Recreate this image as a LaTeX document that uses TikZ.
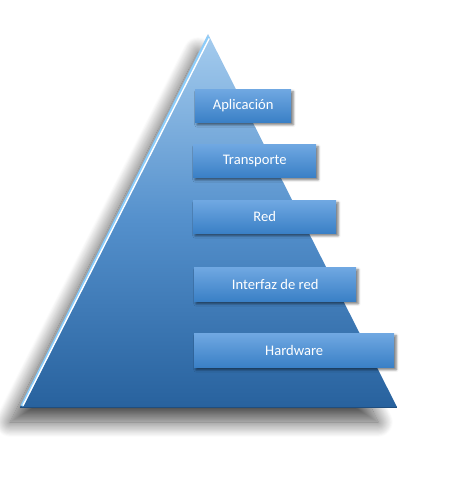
\documentclass[tikz,border=0pt]{standalone}
\usepackage{fontspec}
\setmainfont{Carlito}
\usetikzlibrary{shadows.blur,calc}
\definecolor{tritop}{RGB}{165,204,238}
\definecolor{trimid}{RGB}{84,144,204}
\definecolor{tribot}{RGB}{40,98,158}
\definecolor{boxtop}{RGB}{112,168,226}
\definecolor{boxbot}{RGB}{58,128,198}
\definecolor{edgelight}{RGB}{140,205,250}
\tikzset{
  layer/.style={draw=none, top color=boxtop, bottom color=boxbot, text=white,
    font=\fontsize{14.6}{16}\selectfont, anchor=north west, inner sep=0pt,
    blur shadow={shadow xshift=2pt, shadow yshift=-2.5pt, shadow blur radius=2.5pt, shadow opacity=55}},
}
\begin{document}
\begin{tikzpicture}[x=1pt,y=-1pt]
\useasboundingbox (0,0) rectangle (461,481);
% triangle shadow
\path[blur shadow={shadow xshift=0pt, shadow yshift=0pt, shadow blur radius=15pt, shadow blur steps=28, shadow opacity=70}]
  (198,52) -- (10,422) -- (378,422) -- cycle;
\coordinate (apex) at (208,34);
\coordinate (bl) at (20,407);
\coordinate (br) at (397,407);
\path[top color=tritop, bottom color=tribot, middle color=trimid] (apex) -- (bl) -- (br) -- cycle;
\draw[edgelight, line width=3pt] ($(apex)+(0.5,3)$) -- ($(bl)+(1.8,-1)$);
\draw[white, line width=1.4pt] ($(apex)+(1.2,4.5)$) -- ($(bl)+(3,-1.5)$);
\draw[tribot!80!black, line width=0.6pt] (bl) -- (br);
\node[layer, minimum width=96pt, minimum height=33pt] (app) at (195,89) {Aplicación};
\node[layer, minimum width=123pt, minimum height=33pt] (tra) at (193,144) {Transporte};
\node[layer, minimum width=143pt, minimum height=33pt] (red) at (193,200) {Red};
\node[layer, minimum width=162pt, minimum height=34pt] (int) at (194,267) {Interfaz de red};
\node[layer, minimum width=200pt, minimum height=34pt] (hw) at (194,333) {Hardware};
\end{tikzpicture}
\end{document}
